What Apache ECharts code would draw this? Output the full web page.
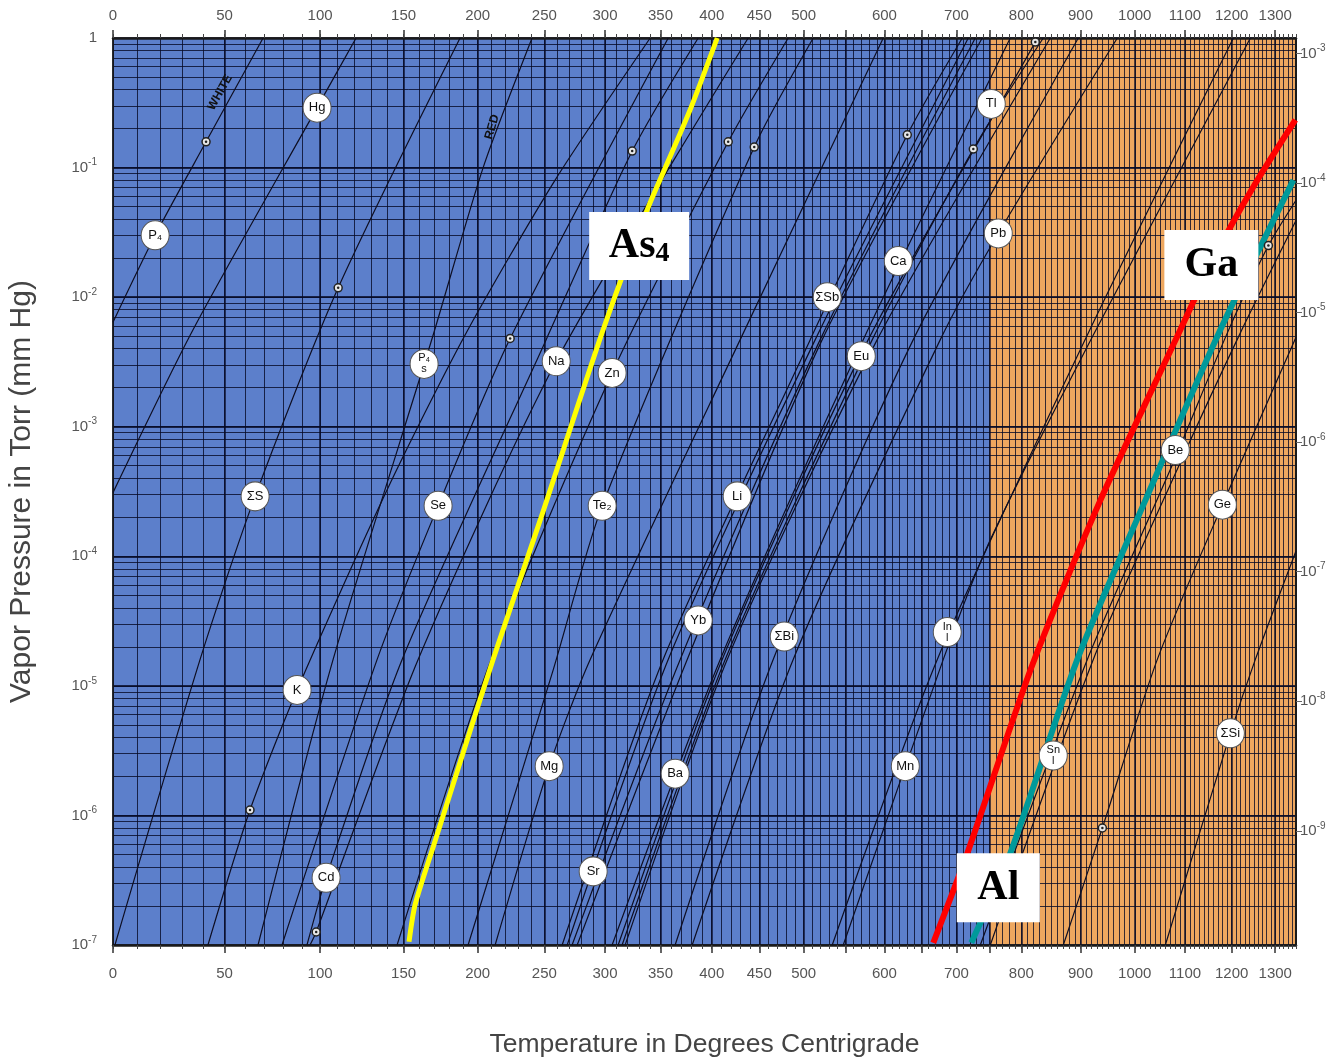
<!DOCTYPE html>
<html><head><meta charset="utf-8">
<script src="https://cdn.jsdelivr.net/npm/echarts@6/dist/echarts.min.js"></script>
<style>html,body{margin:0;padding:0;background:#fff}#c{width:1338px;height:1058px}</style>
</head><body><div id="c"></div>
<script>
// ---------- axes / scale constants ----------
const K0 = 273.15;
const tempMinC = 0, tempMaxC = 1350;
const presMinTorr = 1e-7, presMaxTorr = 1;
const torrPerAtm = 760;
const regionSplitC = 750;

const xLabelTemps = [0,50,100,150,200,250,300,350,400,450,500,600,700,800,900,1000,1100,1200,1300];
const xMajorTemps = [0,50,100,150,200,250,300,350,400,450,500,550,600,650,700,750,800,900,1000,1100,1200,1300];
const xMinorStepC = 10;
const yLabelExps = [0,-1,-2,-3,-4,-5,-6,-7];
const atmLabelExps = [-3,-4,-5,-6,-7,-8,-9];

// ---------- curves: [temperature °C, vapor pressure Torr] ----------
const curveP4White = [[0,6.4e-3],[17.9,3.0e-2],[41.1,0.158],[69.3,1]];
const curveHg = [[0,3.1e-4],[35.0,5.6e-3],[98.3,0.29],[120.8,1]];
const curveS = [[0.8,1e-7],[38.3,1.6e-5],[65.2,2.9e-4],[110.3,1.18e-2],[187.6,1]];
const curveK = [[42.0,1e-7],[62.6,1.1e-6],[87.3,9.3e-6],[139.6,3.25e-4],[191.1,5.1e-3],[258.5,8.0e-2],[340.4,1]];
const curveP4Red = [[66.7,1e-7],[107.4,1.6e-5],[169.3,5.1e-3],[203.9,0.10],[240.4,1]];
const curveSe = [[79.2,1e-7],[133.5,1.6e-5],[172.6,2.45e-4],[223.7,4.8e-3],[357.3,1]];
const curveCd = [[92.7,1e-7],[103.4,3.3e-7],[149.1,1.6e-5],[251.4,4.7e-3],[324.0,0.134],[386.4,1]];
const curveNa = [[94.4,1e-7],[97.8,1.26e-7],[159.4,1.6e-5],[259.4,3.2e-3],[438.0,1]];
const curveZn = [[145.9,1e-7],[209.7,1.6e-5],[306.2,2.6e-3],[416.9,0.158],[482.2,1]];
const curveTe = [[193.2,1e-7],[257.0,1.33e-5],[297.6,2.45e-4],[444.5,0.144],[511.2,1]];
const curveMg = [[212.6,1e-7],[253.8,2.4e-6],[287.4,1.6e-5],[429.5,4.7e-3],[598.5,1]];
const curveSb = [[264.2,1e-7],[352.5,1.6e-5],[507.7,4.7e-3],[630.6,0.179],[708.7,1]];
const curveSr = [[268.3,1e-7],[357.3,1.6e-5],[513.6,4.7e-3],[717.6,1]];
const curveLi = [[272.3,1e-7],[368.8,1.6e-5],[519.5,4.7e-3],[728.1,1]];
const curveYb = [[276.5,1e-7],[375.6,1.6e-5],[521.9,4.7e-3],[738.7,1]];
const curveCa = [[306.2,1e-7],[408.7,1.6e-5],[572.6,4.7e-3],[782.3,1]];
const curveEu = [[311.5,1e-7],[410.7,1.6e-5],[579.0,4.7e-3],[822.8,0.93],[826.1,1]];
const curveBa = [[315.0,1e-7],[413.8,1.6e-5],[584.2,4.7e-3],[725.1,0.139],[836.1,1]];
const curveTl = [[317.7,1e-7],[415.9,1.6e-5],[590.6,4.7e-3],[847.9,1]];
const curveBi = [[363.9,1e-7],[465.3,1.6e-5],[638.8,4.7e-3],[896.2,1]];
const curvePb = [[380.5,1e-7],[487.9,1.6e-5],[676.7,4.7e-3],[763.4,3.1e-2],[967.0,1]];
const curveMn = [[534.0,1e-7],[672.4,1.6e-5],[912.2,5.1e-3],[1203.9,1]];
const curveIn = [[547.5,1e-7],[681.0,1.6e-5],[751.0,1.34e-4],[922.9,5.1e-3],[1242.2,1]];
const curveBe = [[735.7,1e-7],[912.2,1.6e-5],[1076.2,5.3e-4],[1190.6,5.3e-3],[1283.9,2.5e-2],[1350,5.6e-2]];
const curveSn = [[751.0,1e-7],[922.9,1.6e-5],[1090.5,5.3e-4],[1219.5,5.3e-3],[1350,3.9e-2]];
const curveGe = [[870.1,1e-7],[939.3,8.0e-7],[1044.0,1.6e-5],[1181.8,2.6e-4],[1350,4.9e-3]];
const curveSi = [[1060.0,1e-7],[1197.2,4.3e-6],[1253.6,1.6e-5],[1350,1.1e-4]];

const curveAs4 = [[153.5,1.06e-7],[157.4,2.04e-7],[169.3,5.7e-7],[192.5,3.8e-6],[211.1,1.6e-5],[246.7,1.9e-4],[298.4,5.6e-3],[337.6,4.7e-2],[351.6,8.8e-2],[378.5,0.28],[405.6,1]];
const curveGa = [[666.7,1.04e-7],[716.1,5.1e-7],[817.9,1.45e-5],[935.6,2.7e-4],[1090.5,5.6e-3],[1164.3,2.1e-2],[1249.1,7.1e-2],[1348.5,0.233]];
const curveAl = [[722.1,1.04e-7],[782.3,5.1e-7],[894.5,1.6e-5],[1020.4,2.7e-4],[1175.2,5.6e-3],[1343.6,8.0e-2]];

// ---------- element badges ----------
const badgeText = ['P₄','Hg','ΣS','K','Cd','Se','P₄\ns','Na','Zn','Te₂','Mg','Sr','Ba','Yb','Li','ΣSb','Eu','ΣBi','Ca','Pb','Tl','Mn','In\nl','Sn\nl','Be','Ge','ΣSi'];
const badgeT = [17.9,98.3,65.2,87.3,103.4,172.6,163.3,259.4,306.2,297.6,253.8,289.9,363.9,386.4,426.3,527.9,570.1,477.7,618.4,763.4,752.5,627.9,686.7,852.9,1080.2,1179.6,1197.2];
const badgeP = [3.0e-2,0.29,2.9e-4,9.3e-6,3.3e-7,2.45e-4,3.05e-3,3.2e-3,2.6e-3,2.45e-4,2.4e-6,3.7e-7,2.1e-6,3.2e-5,2.9e-4,1.0e-2,3.5e-3,2.4e-5,1.9e-2,3.1e-2,0.31,2.4e-6,2.6e-5,2.9e-6,6.6e-4,2.5e-4,4.3e-6];

// melting-point markers
const meltT = [41.1,110.3,223.7,324.0,416.9,444.5,630.6,725.1,822.8,62.6,97.8,939.3,1283.9];
const meltP = [0.158,1.18e-2,4.8e-3,0.134,0.158,0.144,0.179,0.139,0.93,1.1e-6,1.26e-7,8.0e-7,2.5e-2];

// phase notes
const phaseText = ['WHITE','RED'];
const phaseT = [47.8,210.4];
const phaseP = [0.38,0.206];
const phaseRot = [61,74];

// highlighted boxes
const boxKey = ['As','Ga','Al'];
const boxT = [330.3,1155.7,763.4];
const boxP = [2.48e-2,1.77e-2,2.76e-7];

// ---------- build ----------
const toK = t => t + K0;
const pt = d => [d[0] + K0, d[1]];
const xLabelK = xLabelTemps.map(toK);
const xMajorK = xMajorTemps.map(toK);
const xMinorK = [];
for (let t = tempMinC; t <= tempMaxC; t += xMinorStepC) xMinorK.push(toK(t));
const yDecades = yLabelExps.map(e => Math.pow(10, e));
const yMinors = [];
for (let e = -7; e < 0; e++) for (let k = 1; k < 10; k++) yMinors.push(k * Math.pow(10, e));
yMinors.push(1);
const atmVals = atmLabelExps.map(e => Math.pow(10, e));

const FONT = 'Liberation Sans, Arial, sans-serif';
const gridCol = 'rgba(6,10,38,0.8)';
const xFmt = v => String(Math.round(v - K0));
const powFmt = v => { const e = Math.round(Math.log10(v)); return e === 0 ? '1' : '{b|10}{s|' + e + '}'; };
const powRich = { b: { fontSize: 15, color: '#555', fontFamily: FONT }, s: { fontSize: 10, color: '#555', fontFamily: FONT, padding: [0, 0, 10, 0] } };

const xCommon = { type: 'log', logBase: 10, min: toK(tempMinC), max: toK(tempMaxC), z: 2 };
const yCommon = { type: 'log', logBase: 10, min: presMinTorr, max: presMaxTorr, z: 2 };

const blackCurves = [curveP4White, curveHg, curveS, curveK, curveP4Red, curveSe, curveCd, curveNa, curveZn, curveTe, curveMg,
  curveSb, curveSr, curveLi, curveYb, curveCa, curveEu, curveBa, curveTl, curveBi, curvePb, curveMn, curveIn, curveBe, curveSn, curveGe, curveSi];

const series = [];
series.push({
  type: 'line', data: [], silent: true, z: 1,
  markArea: {
    silent: true, z: 1,
    data: [
      [{ xAxis: toK(tempMinC), itemStyle: { color: '#5c7fcb', opacity: 1 } }, { xAxis: toK(regionSplitC) }],
      [{ xAxis: toK(regionSplitC), itemStyle: { color: '#eea75f', opacity: 1 } }, { xAxis: toK(tempMaxC) }]
    ]
  }
});
blackCurves.forEach(c => series.push({
  type: 'line', data: c.map(pt), symbol: 'none', smooth: 0.25, silent: true, z: 3,
  lineStyle: { color: '#0e0e22', width: 1.2 }
}));
[[curveAs4, '#ffff00', 5], [curveGa, '#ff0000', 6], [curveAl, '#00999a', 6]].forEach(([c, col, w]) => series.push({
  type: 'line', data: c.map(pt), symbol: 'none', smooth: 0.25, silent: true, z: 4,
  lineStyle: { color: col, width: w }
}));
series.push({
  type: 'scatter', z: 5, silent: true, symbol: 'circle', symbolSize: 8,
  itemStyle: { color: '#e6e6e6', borderColor: '#222', borderWidth: 1.5, opacity: 1 },
  data: meltT.map((t, i) => [toK(t), meltP[i]])
});
series.push({
  type: 'scatter', z: 5, silent: true, symbol: 'circle', symbolSize: 2.5,
  itemStyle: { color: '#222', opacity: 1 },
  data: meltT.map((t, i) => [toK(t), meltP[i]])
});
series.push({
  type: 'scatter', z: 6, silent: true, symbol: 'circle', symbolSize: [28, 29],
  itemStyle: { color: '#ffffff', borderColor: '#555', borderWidth: 1, opacity: 1 },
  label: { show: true, position: 'inside', formatter: p => p.name, fontSize: 13, color: '#111', fontFamily: FONT, lineHeight: 11 },
  data: badgeText.map((n, i) => ({ name: n, value: [toK(badgeT[i]), badgeP[i]],
    label: n.indexOf('\n') >= 0 ? { fontSize: 11 } : {} }))
});
series.push({
  type: 'scatter', z: 6, silent: true, symbolSize: 0, itemStyle: { opacity: 1 },
  data: phaseText.map((n, i) => ({ name: n, value: [toK(phaseT[i]), phaseP[i]],
    label: { show: true, position: 'inside', formatter: n, rotate: phaseRot[i], fontSize: 12, fontWeight: 'bold', color: '#111', fontFamily: FONT } }))
});
const boxRich = {
  m: { fontSize: 42, fontWeight: 'bold', fontFamily: 'Liberation Serif, Times New Roman, serif', color: '#000' },
  sub: { fontSize: 28, fontWeight: 'bold', fontFamily: 'Liberation Serif, Times New Roman, serif', color: '#000', padding: [16, 0, 0, 0] }
};
const boxFmt = { As: '{m|As}{sub|4}', Ga: '{m|Ga}', Al: '{m|Al}' };
const boxSize = { As: [100, 68], Ga: [94, 70], Al: [83, 69] };
series.push({
  type: 'scatter', z: 7, silent: true, symbolSize: 0, itemStyle: { opacity: 1 },
  data: boxKey.map((k, i) => ({ name: k, value: [toK(boxT[i]), boxP[i]],
    label: { show: true, position: 'inside', formatter: boxFmt[k], rich: boxRich, backgroundColor: '#fff', opacity: 1,
      width: boxSize[k][0], height: boxSize[k][1], align: 'center', verticalAlign: 'middle', lineHeight: boxSize[k][1] } }))
});

const option = {
  animation: false,
  backgroundColor: '#fff',
  grid: { left: 113, right: 42, top: 38, bottom: 113, containLabel: false, outerBoundsMode: 'none' },
  xAxis: [
    Object.assign({}, xCommon, {
      position: 'bottom',
      axisLine: { show: true, onZero: false, lineStyle: { color: '#1a1a1a', width: 2.5 } },
      axisTick: { show: true, customValues: xMajorK, length: 8, lineStyle: { color: '#333', width: 1.5 } },
      axisLabel: { show: true, customValues: xLabelK, formatter: xFmt, fontSize: 15, color: '#555', margin: 21, fontFamily: FONT },
      splitLine: { show: true, lineStyle: { color: gridCol, width: 1.7 } },
      name: 'Temperature in Degrees Centrigrade', nameLocation: 'middle', nameGap: 86,
      nameTextStyle: { fontSize: 26.5, color: '#444', fontFamily: FONT }
    }),
    Object.assign({}, xCommon, {
      position: 'bottom',
      axisLine: { show: false },
      axisTick: { show: true, customValues: xMinorK, length: 4, lineStyle: { color: '#444', width: 1 } },
      axisLabel: { show: false },
      splitLine: { show: true, lineStyle: { color: gridCol, width: 1 } }
    }),
    Object.assign({}, xCommon, {
      position: 'top',
      axisLine: { show: true, onZero: false, lineStyle: { color: '#1a1a1a', width: 2.5 } },
      axisTick: { show: true, customValues: xMajorK, length: 8, lineStyle: { color: '#333', width: 1.5 } },
      axisLabel: { show: true, customValues: xLabelK, formatter: xFmt, fontSize: 15, color: '#555', margin: 15, fontFamily: FONT },
      splitLine: { show: false }
    }),
    Object.assign({}, xCommon, {
      position: 'top',
      axisLine: { show: false },
      axisTick: { show: true, customValues: xMinorK, length: 4, lineStyle: { color: '#444', width: 1 } },
      axisLabel: { show: false },
      splitLine: { show: false }
    })
  ],
  yAxis: [
    Object.assign({}, yCommon, {
      position: 'left',
      axisLine: { show: true, onZero: false, lineStyle: { color: '#1a1a1a', width: 1.5 } },
      axisTick: { show: false, customValues: yMinors },
      axisLabel: { show: true, customValues: yDecades, formatter: powFmt, rich: powRich, margin: 16, fontSize: 15, color: '#555', fontFamily: FONT },
      splitLine: { show: true, lineStyle: { color: gridCol, width: 1 } },
      name: 'Vapor Pressure in Torr (mm Hg)', nameLocation: 'middle', nameGap: 76,
      nameTextStyle: { fontSize: 30, color: '#444', fontFamily: FONT }
    }),
    Object.assign({}, yCommon, {
      position: 'left',
      axisLine: { show: false },
      axisTick: { show: false, customValues: yDecades },
      axisLabel: { show: false },
      splitLine: { show: true, lineStyle: { color: gridCol, width: 2 } }
    }),
    {
      type: 'log', logBase: 10, min: presMinTorr / torrPerAtm, max: presMaxTorr / torrPerAtm, position: 'right', z: 2,
      axisLine: { show: true, onZero: false, lineStyle: { color: '#1a1a1a', width: 2 } },
      axisTick: { show: true, customValues: atmVals, length: 6, lineStyle: { color: '#666', width: 1 } },
      axisLabel: { show: true, customValues: atmVals, formatter: powFmt, rich: powRich, margin: 4, fontSize: 15, color: '#555', fontFamily: FONT },
      splitLine: { show: false }
    }
  ],
  series: series
};
const chart = echarts.init(document.getElementById('c'));
chart.setOption(option);
</script></body></html>
